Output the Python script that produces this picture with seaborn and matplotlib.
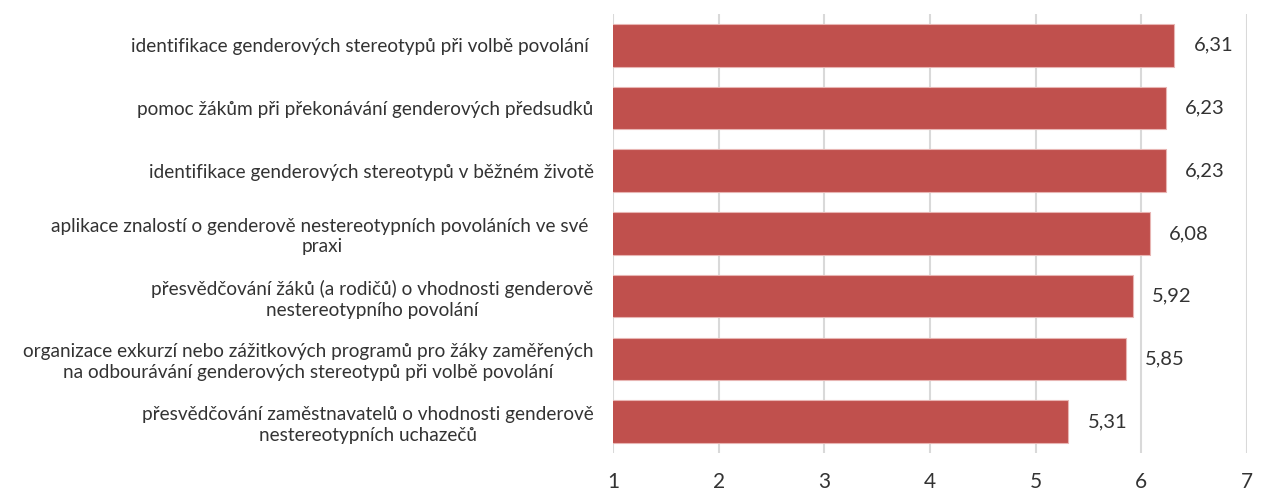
import matplotlib
matplotlib.use("Agg")
import matplotlib.pyplot as plt
import seaborn as sns
import pandas as pd

categories = [
    "identifikace genderových stereotypů při volbě povolání ",
    "pomoc žákům při překonávání genderových předsudků",
    "identifikace genderových stereotypů v běžném životě",
    "aplikace znalostí o genderově nestereotypních povoláních ve své \npraxi",
    "přesvědčování žáků (a rodičů) o vhodnosti genderově\nnestereotypního povolání",
    "organizace exkurzí nebo zážitkových programů pro žáky zaměřených\nna odbourávání genderových stereotypů při volbě povolání",
    "přesvědčování zaměstnavatelů o vhodnosti genderově\nnestereotypních uchazečů",
]
values = [6.31, 6.23, 6.23, 6.08, 5.92, 5.85, 5.31]
x_ticks = [1, 2, 3, 4, 5, 6, 7]

sns.set_theme(style="white")
plt.rcParams["font.family"] = ["Lato", "DejaVu Sans"]

df = pd.DataFrame({"kategorie": categories, "hodnota": values})

fig = plt.figure(figsize=(12.85, 4.94), dpi=100)
ax = fig.add_axes([0.477, 0.083, 0.4935, 0.889])

sns.barplot(data=df, x="hodnota", y="kategorie", orient="h", color="#C0504D",
            saturation=1, width=0.68, edgecolor="#E8B5B3", linewidth=0.8, ax=ax)

ax.set_xlim(1, 7)
ax.set_xticks(x_ticks)
ax.set_xticklabels([str(t) for t in x_ticks], fontsize=15, color="#333333")
ax.xaxis.grid(True, color="#D9D9D9", linewidth=1.5)
ax.set_axisbelow(True)
for s in ax.spines.values():
    s.set_visible(False)
ax.tick_params(axis="x", length=0, pad=14)
ax.tick_params(axis="y", length=0, pad=14)
ax.set_xlabel("")
ax.set_ylabel("")
for lbl in ax.get_yticklabels():
    lbl.set_fontsize(13.7)
    lbl.set_color("#333333")
    lbl.set_multialignment("center")
    lbl.set_linespacing(1.25)

ax.bar_label(ax.containers[0], labels=[f"{v:.2f}".replace(".", ",") for v in values],
             padding=14, fontsize=14.5, color="#333333")

fig.savefig("out.png", dpi=100)
